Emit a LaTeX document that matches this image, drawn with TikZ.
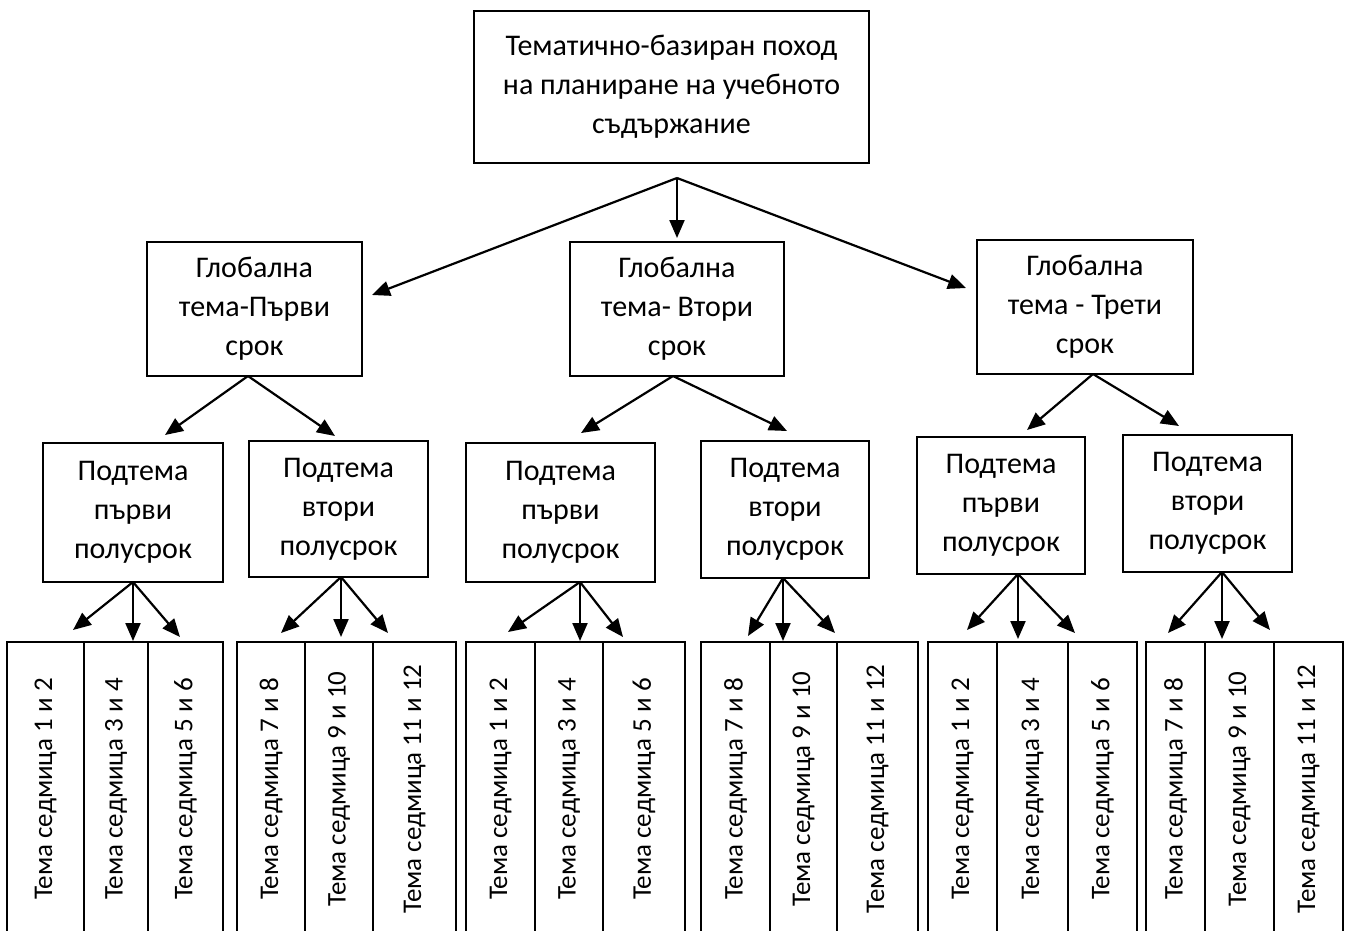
\documentclass[tikz,border=0pt]{standalone}
\usepackage{fontspec}
\setmainfont{Carlito}
\usetikzlibrary{arrows.meta}
\tikzset{
  box/.style={draw, line width=2.4pt, rectangle, align=center, inner sep=0pt,
    font=\fontsize{30}{39}\selectfont},
  cell/.style={draw, line width=2.4pt, rectangle, rotate=90, minimum width=294pt,
    inner sep=0pt, font=\fontsize{27}{30}\selectfont},
  arr/.style={line width=2.2pt, -{Triangle[length=18pt,width=15pt]}}
}
\begin{document}
\begin{tikzpicture}[x=1pt,y=-1pt]
\useasboundingbox (0,0) rectangle (1349,930);
\clip (0,0) rectangle (1349,930);
% top
\node[box, minimum width=395pt, minimum height=152pt] (top) at (671.5,87)
  {Тематично-базиран поход\\на планиране на учебното\\съдържание};
% global
\node[box, minimum width=215pt, minimum height=134pt] (g1) at (254.5,309) {Глобална\\тема-Първи\\срок};
\node[box, minimum width=214pt, minimum height=134pt] (g2) at (677,309) {Глобална\\тема- Втори\\срок};
\node[box, minimum width=216pt, minimum height=134pt] (g3) at (1085,307) {Глобална\\тема - Трети\\срок};
% sub
\node[box, minimum width=180pt, minimum height=139pt] (s1) at (133,512.5) {Подтема\\първи\\полусрок};
\node[box, minimum width=179pt, minimum height=136pt] (s2) at (338.5,509) {Подтема\\втори\\полусрок};
\node[box, minimum width=189pt, minimum height=139pt] (s3) at (560.5,512.5) {Подтема\\първи\\полусрок};
\node[box, minimum width=168pt, minimum height=137pt] (s4) at (785,509.5) {Подтема\\втори\\полусрок};
\node[box, minimum width=168pt, minimum height=137pt] (s5) at (1001,505.5) {Подтема\\първи\\полусрок};
\node[box, minimum width=169pt, minimum height=137pt] (s6) at (1207.5,503.5) {Подтема\\втори\\полусрок};
% cells
\node[cell, minimum height=77pt] (c11) at (45.5,789) {Тема седмица 1 и 2};
\node[cell, minimum height=64pt] (c12) at (116,789) {Тема седмица 3 и 4};
\node[cell, minimum height=75pt] (c13) at (185.5,789) {Тема седмица 5 и 6};
\node[cell, minimum height=68pt] (c21) at (271,789) {Тема седмица 7 и 8};
\node[cell, minimum height=68pt] (c22) at (339,789) {Тема седмица 9 и 10};
\node[cell, minimum height=83pt] (c23) at (414.5,789) {Тема седмица 11 и 12};
\node[cell, minimum height=69pt] (c31) at (500.5,789) {Тема седмица 1 и 2};
\node[cell, minimum height=68pt] (c32) at (569,789) {Тема седмица 3 и 4};
\node[cell, minimum height=82pt] (c33) at (644,789) {Тема седмица 5 и 6};
\node[cell, minimum height=69pt] (c41) at (735.5,789) {Тема седмица 7 и 8};
\node[cell, minimum height=67pt] (c42) at (803.5,789) {Тема седмица 9 и 10};
\node[cell, minimum height=81pt] (c43) at (877.5,789) {Тема седмица 11 и 12};
\node[cell, minimum height=69pt] (c51) at (962.5,789) {Тема седмица 1 и 2};
\node[cell, minimum height=71pt] (c52) at (1032.5,789) {Тема седмица 3 и 4};
\node[cell, minimum height=69pt] (c53) at (1102.5,789) {Тема седмица 5 и 6};
\node[cell, minimum height=59pt] (c61) at (1175.5,789) {Тема седмица 7 и 8};
\node[cell, minimum height=69pt] (c62) at (1239.5,789) {Тема седмица 9 и 10};
\node[cell, minimum height=69pt] (c63) at (1308.5,789) {Тема седмица 11 и 12};
% fork points and tips
\coordinate (f0) at (677,178);
\coordinate (tg1) at (372,295);
\coordinate (tg2) at (677,238);
\coordinate (tg3) at (966,288);
\coordinate (f1) at (248,376);
\coordinate (ts1) at (165,435);
\coordinate (ts2) at (335,436);
\coordinate (f2) at (673,376);
\coordinate (ts3) at (581,433);
\coordinate (ts4) at (787,431);
\coordinate (f3) at (1093,374);
\coordinate (ts5) at (1027,430);
\coordinate (ts6) at (1179,426);
\coordinate (k1) at (133,582);
\coordinate (k2) at (341,577);
\coordinate (k3) at (580,582);
\coordinate (k4) at (783,578);
\coordinate (k5) at (1018,574);
\coordinate (k6) at (1222,572);
\draw[arr] (f0) -- (tg1);
\draw[arr] (f0) -- (tg2);
\draw[arr] (f0) -- (tg3);
\draw[arr] (f1) -- (ts1);
\draw[arr] (f1) -- (ts2);
\draw[arr] (f2) -- (ts3);
\draw[arr] (f2) -- (ts4);
\draw[arr] (f3) -- (ts5);
\draw[arr] (f3) -- (ts6);
\draw[arr] (k1) -- (73,630);
\draw[arr] (k1) -- (133,641);
\draw[arr] (k1) -- (180,637);
\draw[arr] (k2) -- (281,633);
\draw[arr] (k2) -- (341,637);
\draw[arr] (k2) -- (388,633);
\draw[arr] (k3) -- (508,632);
\draw[arr] (k3) -- (580,641);
\draw[arr] (k3) -- (623,637);
\draw[arr] (k4) -- (748,636);
\draw[arr] (k4) -- (783,641);
\draw[arr] (k4) -- (835,633);
\draw[arr] (k5) -- (967,630);
\draw[arr] (k5) -- (1018,639);
\draw[arr] (k5) -- (1075,633);
\draw[arr] (k6) -- (1168,633);
\draw[arr] (k6) -- (1222,639);
\draw[arr] (k6) -- (1270,630);
\end{tikzpicture}
\end{document}
